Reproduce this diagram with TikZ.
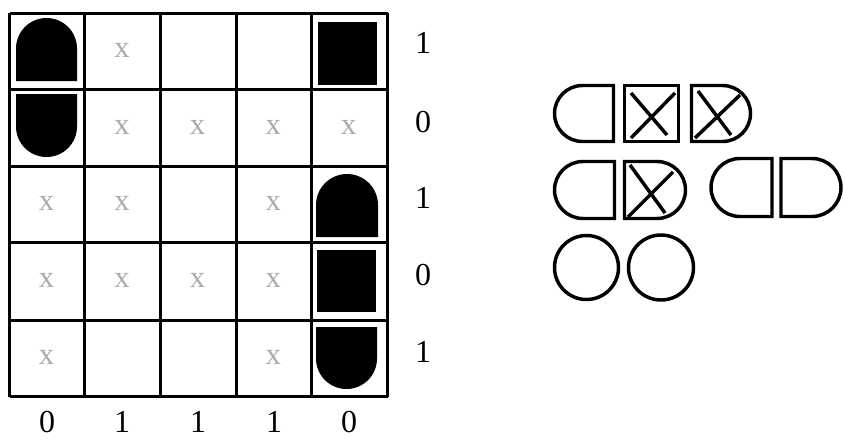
\documentclass[tikz,border=0pt]{standalone}
\usepackage{fontspec}
\setmainfont{Liberation Serif}
\begin{document}
\begin{tikzpicture}[x=0.75pt,y=0.75pt,
  gridline/.style={line width=2.25pt},
  outl/.style={line width=2.6pt},
  xmark/.style={text=black!33,font=\fontsize{23}{26}\selectfont,inner sep=0pt},
  lbl/.style={font=\fontsize{24}{28}\selectfont,inner sep=0pt}]
\useasboundingbox[fill=white] (0,0) rectangle (845,-439);
% grid
\foreach \gx in {9.7,84.2,160.2,236.2,311.5,387.5}
  \draw[gridline] (\gx,-13.3) -- (\gx,-396.7);
\foreach \gy in {13.3,89.3,166.3,242.8,320,396.7}
  \draw[gridline] (9.7,-\gy) -- (387.5,-\gy);
% black pieces
\fill (16,-81) -- (16,-48.5) arc[start angle=180,end angle=0,radius=30.5] -- (77,-81) -- cycle;
\fill (16,-94) -- (16,-126.5) arc[start angle=180,end angle=360,radius=30.5] -- (77,-94) -- cycle;
\fill (318,-22) rectangle (377,-85);
\fill (316,-237) -- (316,-205) arc[start angle=180,end angle=0,radius=31] -- (378,-237) -- cycle;
\fill (317,-250) rectangle (376,-312);
\fill (316,-327) -- (316,-358.5) arc[start angle=180,end angle=360,radius=30.5] -- (377,-327) -- cycle;
% gray x marks
\foreach \r/\c in {0/1,1/1,1/2,1/3,1/4,2/0,2/1,2/3,3/0,3/1,3/2,3/3,4/0,4/3}
  \node[xmark] (x\r\c) at ({46.5+75.56*\c},{-(50.5+76.68*\r)}) {x};
% row labels
\node[lbl] (r0) at (423,-43) {1};
\node[lbl] (r1) at (423,-122) {0};
\node[lbl] (r2) at (423,-198) {1};
\node[lbl] (r3) at (423,-275) {0};
\node[lbl] (r4) at (423,-352) {1};
% column labels
\node[lbl] (c0) at (47,-422) {0};
\node[lbl] (c1) at (122,-422) {1};
\node[lbl] (c2) at (198,-422) {1};
\node[lbl] (c3) at (274,-422) {1};
\node[lbl] (c4) at (349,-422) {0};
% right-hand pieces
\draw[outl] (613.5,-85.5) -- (582.5,-85.5) arc[start angle=90,end angle=270,radius=28] -- (613.5,-141.5) -- cycle;
\draw[outl] (624.5,-85.5) rectangle (678.5,-141.5);
\draw[outl] (631,-93) -- (667,-135);
\draw[outl] (675,-93) -- (631,-138);
\draw[outl] (691.5,-85.5) -- (722.5,-85.5) arc[start angle=90,end angle=-90,radius=28] -- (691.5,-141.5) -- cycle;
\draw[outl] (698,-91) -- (731,-135);
\draw[outl] (740,-95) -- (695,-138);
\draw[outl] (614.5,-161.5) -- (583,-161.5) arc[start angle=90,end angle=270,radius=28.5] -- (614.5,-218.5) -- cycle;
\draw[outl] (624.5,-161.5) -- (657,-161.5) arc[start angle=90,end angle=-90,radius=28.5] -- (624.5,-218.5) -- cycle;
\draw[outl] (630,-165) -- (665,-213);
\draw[outl] (673,-172) -- (628,-217);
\draw[outl] (772,-158.5) -- (740,-158.5) arc[start angle=90,end angle=270,radius=29] -- (772,-216.5) -- cycle;
\draw[outl] (781,-158.5) -- (812,-158.5) arc[start angle=90,end angle=-90,radius=29] -- (781,-216.5) -- cycle;
\draw[outl] (586.5,-267.5) circle[radius=32];
\draw[outl] (661,-267.5) circle[radius=32.5];
\end{tikzpicture}
\end{document}
